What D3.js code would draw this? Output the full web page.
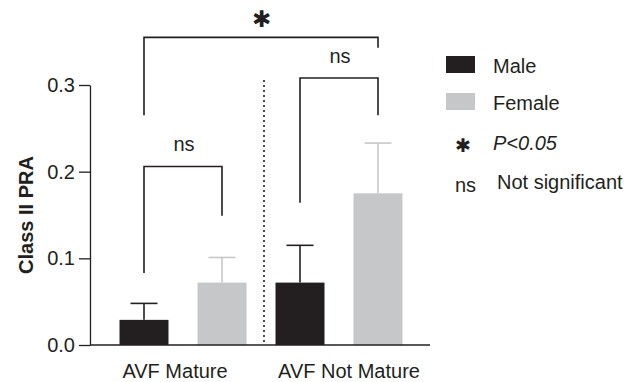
<!DOCTYPE html>
<html>
<head>
  <meta charset="utf-8" />
  <script src="https://cdn.jsdelivr.net/npm/d3@7"></script>
  <style>
  body { margin: 0; background: #fff; }
  text { font-family: "Liberation Sans", Arial, sans-serif; fill: #231f20; }
  </style>
</head>
<body>
  <script>
  // values
  var groups = ["AVF Mature", "AVF Not Mature"];
  var sexes = ["Male", "Female"];
  var maleMean = [0.029, 0.072];
  var maleErr = [0.019, 0.043];
  var femaleMean = [0.072, 0.175];
  var femaleErr = [0.029, 0.058];
  var yTicks = [0, 0.1, 0.2, 0.3];

  // significance brackets: [group, sex] ends, top level, leg bottoms
  var brackets = [
    {a: [0, 0], b: [0, 1], top: 0.206, ya: 0.083, yb: 0.149, label: "ns"},
    {a: [1, 0], b: [1, 1], top: 0.308, ya: 0.164, yb: 0.265, label: "ns"},
    {a: [0, 0], b: [1, 1], top: 0.355, ya: 0.265, yb: 0.343, label: "\u2731"}
  ];

  var colors = {Male: "#231f20", Female: "#c6c7c9"};
  var ink = "#231f20";
  var fs = 20;

  var svg = d3.select("body").append("svg")
    .attr("width", 638)
    .attr("height", 382);

  var y = d3.scaleLinear().domain([0, 0.3]).range([345, 85]);
  var x0 = d3.scaleBand().domain(groups).range([105, 417]).padding(0);
  var x1 = d3.scaleBand().domain(sexes).range([0, x0.bandwidth()])
    .paddingInner(0.372).paddingOuter(0.186);

  var rows = [];
  groups.forEach(function(g, i) {
    rows.push({group: g, sex: "Male", v: maleMean[i], e: maleErr[i]});
    rows.push({group: g, sex: "Female", v: femaleMean[i], e: femaleErr[i]});
  });

  function cx(gi, si) {
    return x0(groups[gi]) + x1(sexes[si]) + x1.bandwidth() / 2;
  }
  function mid(d) {
    return x0(d.group) + x1(d.sex) + x1.bandwidth() / 2;
  }

  // y axis
  svg.append("g")
    .attr("transform", "translate(90,0)")
    .call(d3.axisLeft(y).tickValues(yTicks).tickFormat(d3.format(".1f"))
      .tickSize(11).tickSizeOuter(0).tickPadding(4))
    .call(function(g) {
      g.select(".domain").attr("stroke", ink).attr("stroke-width", 1.3);
      g.selectAll(".tick line").attr("stroke", ink).attr("stroke-width", 1.3);
      g.selectAll(".tick text").attr("font-size", fs)
        .attr("font-family", "Liberation Sans, Arial, sans-serif").attr("fill", ink);
    });

  svg.append("text")
    .attr("transform", "translate(26," + ((y(0) + y(0.3)) / 2) + ") rotate(-90)")
    .attr("text-anchor", "middle")
    .attr("dominant-baseline", "central")
    .attr("font-size", fs)
    .attr("font-weight", "bold")
    .text("Class II PRA");

  // error bars
  var eb = svg.append("g").selectAll("g").data(rows).enter().append("g")
    .attr("stroke", function(d) { return colors[d.sex]; })
    .attr("stroke-width", 1.6);
  eb.append("line")
    .attr("x1", mid).attr("x2", mid)
    .attr("y1", function(d) { return y(d.v); })
    .attr("y2", function(d) { return y(d.v + d.e); });
  eb.append("line")
    .attr("x1", function(d) { return mid(d) - 13.5; })
    .attr("x2", function(d) { return mid(d) + 13.5; })
    .attr("y1", function(d) { return y(d.v + d.e); })
    .attr("y2", function(d) { return y(d.v + d.e); });

  // bars
  svg.append("g").selectAll("rect").data(rows).enter().append("rect")
    .attr("x", function(d) { return x0(d.group) + x1(d.sex); })
    .attr("width", x1.bandwidth())
    .attr("y", function(d) { return y(d.v); })
    .attr("height", function(d) { return y(0) - y(d.v); })
    .attr("fill", function(d) { return colors[d.sex]; });

  // baseline
  svg.append("line")
    .attr("x1", 90).attr("x2", 430)
    .attr("y1", y(0)).attr("y2", y(0))
    .attr("stroke", ink).attr("stroke-width", 1.3);

  // dotted separator between groups
  svg.append("line")
    .attr("x1", x0(groups[1]) + 3).attr("x2", x0(groups[1]) + 3)
    .attr("y1", 80).attr("y2", y(0))
    .attr("stroke", ink).attr("stroke-width", 1.6)
    .attr("stroke-dasharray", "2,3");

  // group labels
  svg.append("g").selectAll("text").data(groups).enter().append("text")
    .attr("x", function(d, i) { return x0(d) + x0.bandwidth() / 2 + (i ? 10 : -8); })
    .attr("y", 378)
    .attr("text-anchor", "middle")
    .attr("font-size", fs)
    .text(function(d) { return d; });

  // brackets
  var bg = svg.append("g").selectAll("g").data(brackets).enter().append("g");
  bg.append("path")
    .attr("fill", "none").attr("stroke", ink).attr("stroke-width", 1.6)
    .attr("d", function(d) {
      var xa = cx(d.a[0], d.a[1]), xb = cx(d.b[0], d.b[1]);
      return "M" + xa + "," + y(d.ya) + "V" + y(d.top) + "H" + xb + "V" + y(d.yb);
    });
  bg.append("text")
    .attr("x", function(d) { return (cx(d.a[0], d.a[1]) + cx(d.b[0], d.b[1])) / 2 + (d.label === "ns" ? 1 : 0); })
    .attr("y", function(d) { return y(d.top) - (d.label === "ns" ? 15 : 10); })
    .attr("text-anchor", "middle")
    .attr("font-size", function(d) { return d.label === "ns" ? fs : 23; })
    .attr("font-family", function(d) { return d.label === "ns" ? null : "DejaVu Sans"; })
    .text(function(d) { return d.label; });

  // legend
  var leg = svg.append("g");
  sexes.forEach(function(s, i) {
    leg.append("rect")
      .attr("x", 446).attr("y", 56 + i * 37)
      .attr("width", 29).attr("height", 17)
      .attr("fill", colors[s]);
    leg.append("text")
      .attr("x", 493).attr("y", 73 + i * 37)
      .attr("font-size", fs)
      .text(s);
  });
  leg.append("text")
    .attr("x", 462.5).attr("y", 152)
    .attr("text-anchor", "middle")
    .attr("font-size", 19).attr("font-family", "DejaVu Sans")
    .text("\u2731");
  leg.append("text")
    .attr("x", 493).attr("y", 150)
    .attr("font-size", fs).attr("font-style", "italic")
    .text("P<0.05");
  leg.append("text")
    .attr("x", 455).attr("y", 192)
    .attr("font-size", fs)
    .text("ns");
  leg.append("text")
    .attr("x", 497).attr("y", 189)
    .attr("font-size", fs)
    .text("Not significant");
  </script>
</body>
</html>
